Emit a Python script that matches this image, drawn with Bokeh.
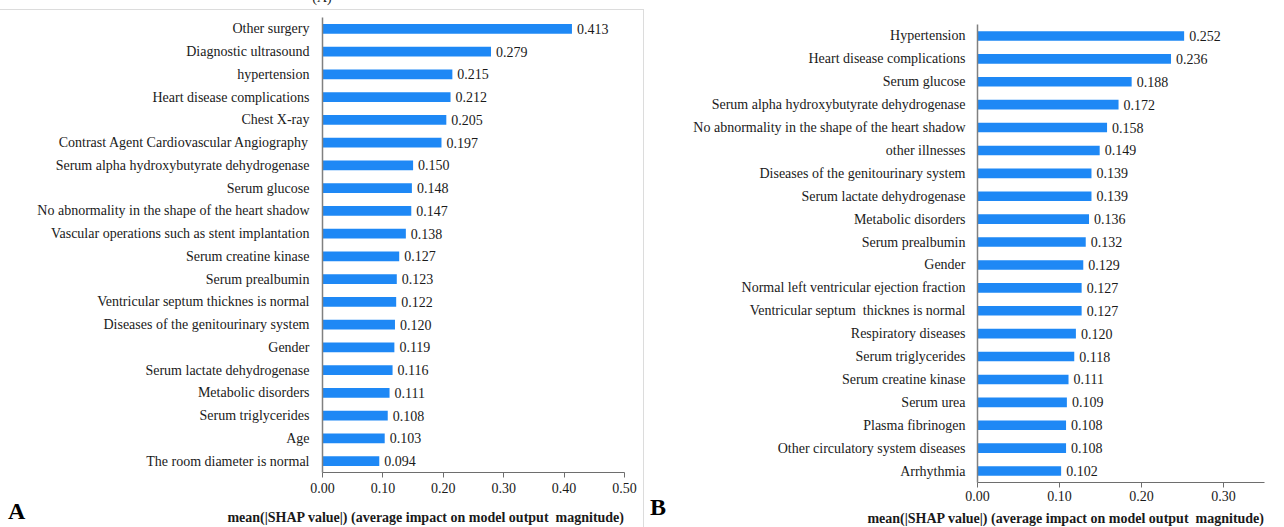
from bokeh.plotting import figure
from bokeh.models import (ColumnDataSource, FactorRange, Range1d, FixedTicker,
                          PrintfTickFormatter, Div)
from bokeh.layouts import row, column
from bokeh.core.properties import value
from bokeh.embed import file_html
from bokeh.resources import INLINE

# ---------------- data ----------------
names_a = ["Other surgery", "Diagnostic ultrasound", "hypertension",
           "Heart disease complications", "Chest X-ray",
           "Contrast Agent Cardiovascular Angiography",
           "Serum alpha hydroxybutyrate dehydrogenase", "Serum glucose",
           "No abnormality in the shape of the heart shadow",
           "Vascular operations such as stent implantation",
           "Serum creatine kinase", "Serum prealbumin",
           "Ventricular septum thicknes is normal",
           "Diseases of the genitourinary system", "Gender",
           "Serum lactate dehydrogenase", "Metabolic disorders",
           "Serum triglycerides", "Age", "The room diameter is normal"]
values_a = [0.413, 0.279, 0.215, 0.212, 0.205, 0.197, 0.150, 0.148, 0.147,
            0.138, 0.127, 0.123, 0.122, 0.120, 0.119, 0.116, 0.111, 0.108,
            0.103, 0.094]
ticks_a = [0.0, 0.1, 0.2, 0.3, 0.4, 0.5]

names_b = ["Hypertension", "Heart disease complications", "Serum glucose",
           "Serum alpha hydroxybutyrate dehydrogenase",
           "No abnormality in the shape of the heart shadow",
           "other illnesses", "Diseases of the genitourinary system",
           "Serum lactate dehydrogenase", "Metabolic disorders",
           "Serum prealbumin", "Gender",
           "Normal left ventricular ejection fraction",
           "Ventricular septum\u00a0 thicknes is normal",
           "Respiratory diseases", "Serum triglycerides",
           "Serum creatine kinase", "Serum urea", "Plasma fibrinogen",
           "Other circulatory system diseases", "Arrhythmia"]
values_b = [0.252, 0.236, 0.188, 0.172, 0.158, 0.149, 0.139, 0.139, 0.136,
            0.132, 0.129, 0.127, 0.127, 0.120, 0.118, 0.111, 0.109, 0.108,
            0.108, 0.102]
ticks_b = [0.0, 0.1, 0.2, 0.3]

x_title = "mean(|SHAP value|) (average impact on model output\u00a0 magnitude)"

FONT = "Liberation Serif"
BLUE = "#1e88f5"
AXIS_GRAY = "#808080"
TXT = "#1a1a1a"
BOX_GRAY = "#dcdcdc"


def panel(names, vals, ticks, xmax, width, height, left, right, top, bottom,
          standoff, xlab_standoff):
    src = ColumnDataSource(dict(name=names, val=vals,
                                txt=[f"{v:.3f}" for v in vals]))
    p = figure(width=width, height=height,
               y_range=FactorRange(factors=list(reversed(names))),
               x_range=Range1d(0, xmax),
               output_backend="svg", toolbar_location=None,
               min_border_left=left, min_border_right=right,
               min_border_top=top, min_border_bottom=bottom)
    p.hbar(y="name", right="val", left=0, height=0.42, source=src,
           fill_color=BLUE, line_color=None)
    p.text(x="val", y="name", text="txt", source=src, x_offset=5,
           text_baseline="middle", text_align="left",
           text_font=value(FONT), text_font_size="14px", text_color=TXT)

    p.outline_line_color = None
    p.xgrid.visible = False
    p.ygrid.visible = False
    p.background_fill_color = "white"
    p.border_fill_color = "white"

    xa = p.xaxis[0]
    xa.ticker = FixedTicker(ticks=ticks)
    xa.formatter = PrintfTickFormatter(format="%.2f")
    xa.major_tick_in = 0
    xa.major_tick_out = 5
    xa.minor_tick_line_color = None
    xa.axis_line_color = "#6e6e6e"
    xa.major_tick_line_color = "#6e6e6e"
    xa.axis_line_width = 1.2
    xa.major_label_standoff = xlab_standoff
    xa.major_label_text_font = FONT
    xa.major_label_text_font_size = "14px"
    xa.major_label_text_color = TXT

    ya = p.yaxis[0]
    ya.major_tick_line_color = None
    ya.minor_tick_line_color = None
    ya.axis_line_color = AXIS_GRAY
    ya.axis_line_width = 1.5
    ya.major_label_standoff = standoff
    ya.major_label_text_font = FONT
    ya.major_label_text_font_size = "14px"
    ya.major_label_text_color = TXT
    return p


def title_div(width, height, pad_right, pad_top):
    html = (f'<div style="font-family:\'Liberation Serif\';font-size:14px;'
            f'font-weight:bold;line-height:14px;color:{TXT};'
            f'text-align:right;white-space:pre;width:{width - pad_right}px;'
            f'position:relative;top:{pad_top}px;">{x_title}</div>')
    return Div(text=html, width=width, height=height, margin=0)


def letter_div(letter, width, height, pad_top, pad_left):
    html = (f'<div style="font-family:\'Liberation Serif\';font-size:24px;'
            f'font-weight:bold;line-height:24px;color:#000;'
            f'position:relative;top:{pad_top}px;left:{pad_left}px;">'
            f'{letter}</div>')
    return Div(text=html, width=width, height=height, margin=0)


# ---- panel A block (x 0..644) ----
pa = panel(names_a, values_a, ticks_a, 0.5, 613, 500, 292, 19, 7, 38,
           7, 5)
tit_a = title_div(613, 17, 19, 0)
cap_a = Div(text=('<div style="font-family:\'Liberation Serif\';'
                  'font-size:14px;line-height:14px;color:#1a1a1a;'
                  'text-align:center;width:644px;position:relative;'
                  'top:-10px;">(A)</div>'),
            width=644, height=9, margin=0, styles={"overflow": "hidden"})
hline_a = Div(text="", width=644, height=1, margin=0,
              styles={"background-color": BOX_GRAY})
vline_a = Div(text="", width=1, height=517, margin=0,
              styles={"background-color": BOX_GRAY})
let_a = letter_div("A", 30, 517, 489, 8)
block_a = column(cap_a, hline_a,
                 row(let_a, column(pa, tit_a, spacing=0), vline_a, spacing=0),
                 spacing=0)

# ---- panel B block (x 644..1284) ----
pb = panel(names_b, values_b, ticks_b, 0.35, 610, 510, 303, 20, 24, 28,
           6, 3)
tit_b = title_div(610, 17, 20, 1)
let_b = letter_div("B", 30, 527, 495, 6)
block_b = row(let_b, column(pb, tit_b, spacing=0), spacing=0)

layout = row(block_a, block_b, spacing=0)
open("out.html", "w").write(file_html(layout, INLINE))
